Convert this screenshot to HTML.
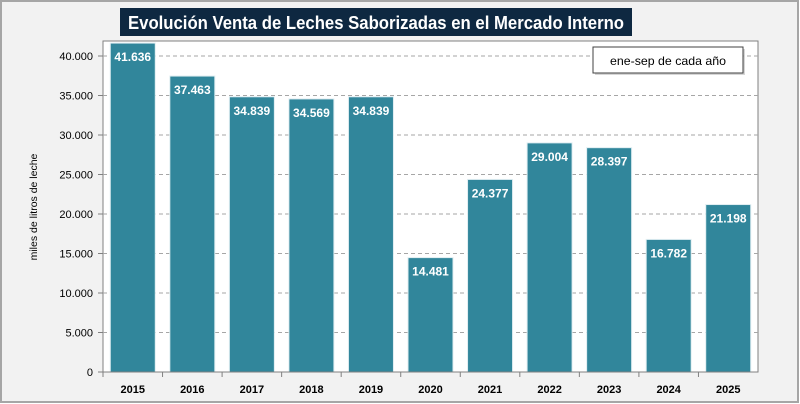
<!DOCTYPE html>
<html><head><meta charset="utf-8"><style>
body{margin:0;width:800px;height:404px;overflow:hidden;background:#fff;font-family:"Liberation Sans",sans-serif}
svg{display:block}
</style></head><body>
<svg width="800" height="404">
<rect x="1" y="1" width="797" height="401" fill="#f2f2f2" stroke="#a6a6a6" stroke-width="2"/>
<rect x="103" y="41" width="655" height="331" fill="#fff" stroke="#808080" stroke-width="1"/>
<g id="grid"></g><g id="bars"></g><g id="axes"></g>
<rect x="120" y="8" width="512" height="28" fill="#0e2841"/>
<text x="376" y="29" text-anchor="middle" fill="#fff" font-size="18" font-weight="bold" textLength="496" lengthAdjust="spacingAndGlyphs">Evolución Venta de Leches Saborizadas en el Mercado Interno</text>
<rect x="595" y="49" width="150" height="26" fill="#bbb" opacity="0.6"/>
<rect x="593" y="47" width="150" height="26" fill="#fff" stroke="#404040"/>
<text x="668" y="65" text-anchor="middle" font-size="12" fill="#000" textLength="116" lengthAdjust="spacingAndGlyphs">ene-sep de cada año</text>
<text transform="translate(37,207) rotate(-90)" text-anchor="middle" font-size="10.5" fill="#000">miles de litros de leche</text>
</svg>
<script>
const categories=["2015","2016","2017","2018","2019","2020","2021","2022","2023","2024","2025"];
const values=[41636,37463,34839,34569,34839,14481,24377,29004,28397,16782,21198];
const labels=["41.636","37.463","34.839","34.569","34.839","14.481","24.377","29.004","28.397","16.782","21.198"];
const yTicks=[0,5000,10000,15000,20000,25000,30000,35000,40000];
const yTickLabels=["0","5.000","10.000","15.000","20.000","25.000","30.000","35.000","40.000"];
const NS="http://www.w3.org/2000/svg";
const x0=103,x1=758,y0=372,yMax=41900,yTop=41;
const y=v=>y0-(v/yMax)*(y0-yTop);
const bw=(x1-x0)/categories.length;
const xc=i=>x0+bw*(i+0.5);
function mk(t,a,p){const e=document.createElementNS(NS,t);for(const k in a)e.setAttribute(k,a[k]);p.appendChild(e);return e;}
const G=document.getElementById('grid'),B=document.getElementById('bars'),A=document.getElementById('axes');
yTicks.forEach((t,i)=>{
 if(t>0){const l=mk('line',{x1:x0,x2:x1,y1:y(t),y2:y(t),stroke:'#a6a6a6','stroke-dasharray':'4,3'},G);
 
 }
 const tk=mk('line',{x1:x0-5,x2:x0,y1:y(t),y2:y(t),stroke:'#808080'},A);
 
 
 const tx=mk('text',{x:x0-10,y:y(t)+4,'text-anchor':'end','font-size':'11',fill:'#000'},A);
 tx.textContent=yTickLabels[i];
 
 
});
categories.forEach((c,i)=>{
 const w=45,yy=y(values[i]);
 const r=mk('rect',{x:xc(i)-w/2,y:yy,width:w,height:y0-yy,fill:'#31869b',stroke:'#e0eef2','stroke-width':'1'},B);
 
 
 const t=mk('text',{x:xc(i),y:yy+18,'text-anchor':'middle','font-size':'12','font-weight':'bold',fill:'#fff'},B);
 t.textContent=labels[i];
 
 
 const tk=mk('line',{x1:x0+bw*i,x2:x0+bw*i,y1:y0,y2:y0+5,stroke:'#808080'},A);
 
 
 const xl=mk('text',{x:xc(i),y:393,'text-anchor':'middle','font-size':'11','font-weight':'bold',fill:'#000'},A);
 xl.textContent=c;
 
 
});
const ax=mk('line',{x1:x0,x2:x1,y1:y0,y2:y0,stroke:'#808080'},A);


</script>
</body></html>
